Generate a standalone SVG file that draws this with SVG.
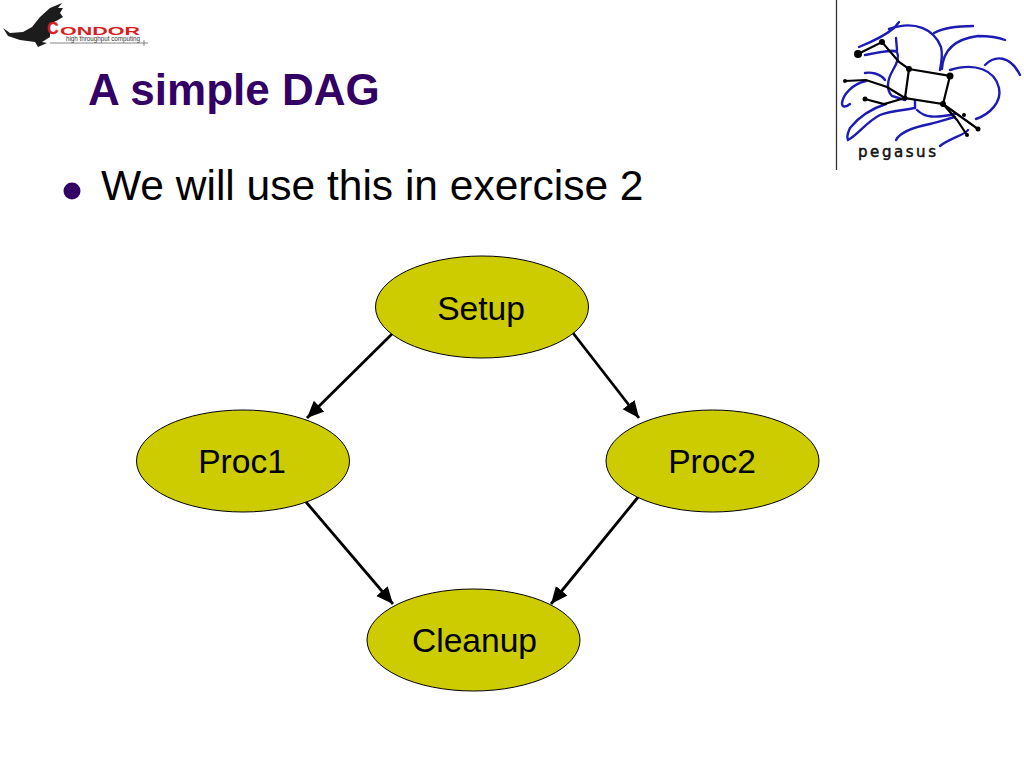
<svg xmlns="http://www.w3.org/2000/svg" width="1024" height="768" viewBox="0 0 1024 768">
<style>
text{font-family:"Liberation Sans",Arial,sans-serif}
.n{fill:#cccc00;stroke:#000;stroke-width:1}
.l{font-size:33.6px;fill:#000;text-anchor:middle}
.c{fill:none;stroke:#000;stroke-width:2.8}
.b{fill:none;stroke:#1c1cb4;stroke-width:2.4;stroke-linecap:round}
.k{fill:none;stroke:#000;stroke-width:2.2}
</style>
<defs>
<marker id="a" markerUnits="userSpaceOnUse" markerWidth="18" markerHeight="18" refX="17" refY="9" orient="auto"><path d="M0 1.500L17 9L0 16.500Z" fill="#000"/></marker>
</defs>
<rect width="1024" height="768" fill="#fff"/>
<g id="condor-logo">
<path d="M3 28L10 33L23 32L32 27L40 17L50 8L62 3L58 8L63 8L60 13L63 17L58 20L50 24L50 37L42 42L47 43L38 47L35 42L20 40L8 36Z" fill="#1c1c1c"/>
<text x="47" y="34" font-size="16" font-weight="bold" fill="#d81e1e" stroke="#d81e1e" stroke-width=".4">C</text>
<text x="60" y="34.500" font-size="11.500" font-weight="bold" fill="#d81e1e" textLength="80" lengthAdjust="spacingAndGlyphs">ONDOR</text>
<text x="66" y="41" font-size="6.500" fill="#333" textLength="74" lengthAdjust="spacingAndGlyphs">high throughput computing</text>
<path d="M50 43H148M144 40V46" stroke="#666" stroke-width=".8" fill="none"/>
</g>
<g id="title"><text x="88" y="105" font-size="44" font-weight="bold" fill="#330066">A simple DAG</text></g>
<g id="bullet">
<circle cx="72" cy="191" r="8.500" fill="#330066"/>
<text x="101" y="200" font-size="42.500" fill="#000">We will use this in exercise 2</text>
</g>
<g id="pegasus-logo">
<path d="M836.500 0V170" stroke="#333" stroke-width="1.300" fill="none"/>
<g>
<path class="b" d="M859 47C874 41 888 33 894 28C897 25 898 23 899 22"/>
<path class="b" d="M889 29C915 20 934 29 941 47C943 55 941 65 940 70"/>
<path class="b" d="M934 33C945 27 958 26 973 26"/>
<path class="b" d="M942 69C943 50 955 39 978 36C990 36 1000 38 1005 40"/>
<path class="b" d="M985 65C995 55 1010 55 1020 75"/>
<path class="b" d="M950 70C975 62 995 70 999 88C1002 102 990 114 976 119"/>
<path class="b" d="M865 55C880 52 893 49 897 52C900 58 896 65 893 70C887 80 886 90 892 96L905 100"/>
<path class="b" d="M896 38L897 50"/>
<path class="b" d="M865 73C870 72 880 73 885 80"/>
<path class="b" d="M866 81C852 84 843 95 842 103C842 107 845 108 850 104"/>
<path class="b" d="M886 104C870 109 858 118 850 128C848 133 846 136 848 140C858 135 866 122 880 115C890 111 905 110 915 108L915 100"/>
<path class="b" d="M917 110C925 118 935 118 955 114"/>
<path class="b" d="M896 140C900 132 915 127 930 124C940 122 950 118 955 117"/>
<path class="b" d="M940 146C950 138 965 135 968 130"/>
</g>
<g>
<path class="k" d="M858 54L882 42L899 62L909 69L950 76L943 104L905 98L909 69"/>
<path class="k" d="M845 81L866 80L887 87L905 98"/>
<path class="k" d="M865 99L884 104L905 98"/>
<path class="k" d="M943 104L978 129"/>
<path class="k" d="M943 104L957 120L967 135"/>
<circle cx="858" cy="54" r="4"/><circle cx="882" cy="42" r="3"/><circle cx="909" cy="69" r="3"/><circle cx="950" cy="76" r="3.500"/><circle cx="905" cy="98" r="2.500"/><circle cx="943" cy="104" r="3"/><circle cx="845" cy="81" r="2"/><circle cx="865" cy="99" r="2.500"/><circle cx="964" cy="115" r="2"/><circle cx="978" cy="129" r="2.500"/><circle cx="967" cy="135" r="2"/>
</g>
<text x="858" y="157" font-size="15" fill="#111" stroke="#111" stroke-width=".5" style="font-family:'DejaVu Sans',sans-serif" textLength="78" lengthAdjust="spacing">pegasus</text>
</g>
<g id="connectors">
<path class="c" marker-end="url(#a)" d="M393 333L307 418"/>
<path class="c" marker-end="url(#a)" d="M573 333L639 418"/>
<path class="c" marker-end="url(#a)" d="M306 502L393 604"/>
<path class="c" marker-end="url(#a)" d="M639 496L551 604"/>
</g>
<g id="setup"><ellipse class="n" cx="482" cy="307" rx="106.500" ry="51"/><text class="l" x="481" y="320">Setup</text></g>
<g id="proc1"><ellipse class="n" cx="243" cy="461" rx="106.500" ry="51"/><text class="l" x="242" y="473">Proc1</text></g>
<g id="proc2"><ellipse class="n" cx="712.500" cy="461" rx="106.500" ry="51"/><text class="l" x="712" y="473">Proc2</text></g>
<g id="cleanup"><ellipse class="n" cx="473.500" cy="640" rx="106.500" ry="51"/><text class="l" x="474.500" y="652">Cleanup</text></g>
</svg>
